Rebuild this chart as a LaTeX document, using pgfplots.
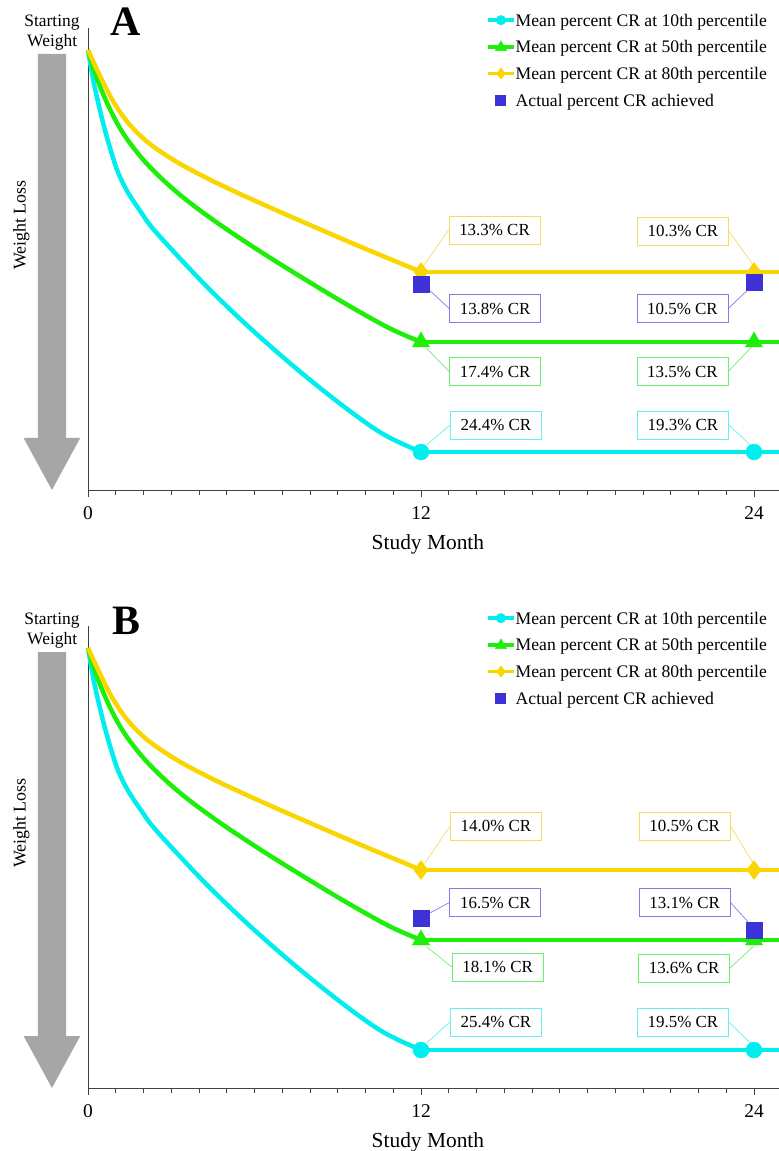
\documentclass[border=0pt]{standalone}
\usepackage{pgfplots}
\pgfplotsset{compat=1.18}
\usepackage{pgfplotstable}
\usepackage{fontspec}
\setmainfont{Liberation Serif}

\definecolor{cyanC}{RGB}{0,238,238}
\definecolor{greenC}{RGB}{30,238,10}
\definecolor{yellowC}{RGB}{250,214,0}
\definecolor{blueC}{RGB}{60,50,215}
\definecolor{cyanB}{RGB}{100,240,240}
\definecolor{greenB}{RGB}{110,238,110}
\definecolor{yellowB}{RGB}{242,220,100}
\definecolor{blueB}{RGB}{130,124,230}
\definecolor{arrowgray}{RGB}{166,166,166}

\pgfplotstableread{
m y
0 440
0.19 410
0.37 387
0.61 360
0.85 337
1.09 317
1.45 297
1.93 277
2.29 263
3.02 240.4
4.10 208.5
4.94 185.4
5.90 160.4
7.10 131
8.30 103.4
9.50 77.6
10.46 58.9
11.18 48.1
12 38
}\cyancurve
\pgfplotstableread{
m y
0 440
0.25 417
0.61 391.8
0.97 370.9
1.33 354
1.81 336.2
2.29 321.3
2.90 305.1
3.50 291
4.22 275.9
5.06 259.5
6.14 239.7
7.10 222.9
8.30 202.5
9.50 182.7
10.70 164.1
11.42 154.7
12 148
}\greencurve
\pgfplotstableread{
m y
0 440
0.37 417.8
0.85 391.4
1.33 371.2
1.81 356.3
2.29 344.8
2.90 333.2
3.50 323.3
4.40 310.3
5.30 298.3
6.20 287
7.10 275.9
8.00 265
8.90 254.2
10.10 240
11.30 226.2
12 218
}\yellowcurve

\newcommand{\annfont}{\fontsize{17}{18}\selectfont}
\tikzset{annbox/.style={draw=#1, line width=0.8bp, fill=white, minimum width=91bp, minimum height=28bp, inner sep=0pt, font=\annfont}}

\pgfplotsset{
  panel/.style={
    anchor=origin, x=27.75bp, y=1bp,
    xmin=0, xmax=24.9, ymin=0, ymax=462,
    axis x line=bottom, axis y line=left,
    axis line style={-, black!75, line width=0.9bp},
    ytick=\empty, xtick={0,12,24}, xticklabels={0,12,24},
    minor xtick={1,2,...,23},
    tick align=outside, major tick length=7bp, minor tick length=4.5bp,
    tick style={black!75, line width=0.8bp},
    xticklabel style={font=\fontsize{19.5}{20}\selectfont, anchor=base, yshift=-22bp},
    clip=false,
    legend style={draw=none, fill=none, at={(0.576,1.0325)}, anchor=north west,
      inner sep=0pt, row sep=12.7bp, font=\fontsize{17.7}{18}\selectfont,
      nodes={inner sep=0pt, text height=13bp, text depth=1bp}},
    legend cell align=left,
  },
}

\newcommand{\legendstuff}{%
  \addlegendimage{legend image code/.code={\draw[cyanC, line width=3.5bp] (0bp,0bp) -- (26bp,0bp); \fill[cyanC] (13bp,0bp) circle (4.8bp);}}
  \addlegendentry{Mean percent CR at 10th percentile}
  \addlegendimage{legend image code/.code={\draw[greenC, line width=3.5bp] (0bp,0bp) -- (26bp,0bp); \fill[greenC] (13bp,6bp) -- (7.3bp,-3.8bp) -- (18.7bp,-3.8bp) -- cycle;}}
  \addlegendentry{Mean percent CR at 50th percentile}
  \addlegendimage{legend image code/.code={\draw[yellowC, line width=3.5bp] (0bp,0bp) -- (26bp,0bp); \fill[yellowC] (13bp,5.5bp) -- (17.5bp,0bp) -- (13bp,-5.5bp) -- (8.5bp,0bp) -- cycle;}}
  \addlegendentry{Mean percent CR at 80th percentile}
  \addlegendimage{legend image code/.code={\path[draw=none, fill=none] (0bp,-1bp) rectangle (26bp,1bp); \fill[blueC] (7bp,-5.3bp) rectangle (17.6bp,5.3bp);}}
  \addlegendentry{Actual percent CR achieved}
}

\newcommand{\curves}{%
  \addplot[cyanC, line width=4.5bp, smooth, tension=0.6, line join=round, forget plot] table[x=m,y=y] {\cyancurve};
  \addplot[cyanC, line width=4.5bp, forget plot] coordinates {(12,38) (24.9,38)};
  \addplot[greenC, line width=4.5bp, smooth, tension=0.6, line join=round, forget plot] table[x=m,y=y] {\greencurve};
  \addplot[greenC, line width=4.5bp, forget plot] coordinates {(12,148) (24.9,148)};
  \addplot[yellowC, line width=4.5bp, smooth, tension=0.6, line join=round, forget plot] table[x=m,y=y] {\yellowcurve};
  \addplot[yellowC, line width=4.5bp, forget plot] coordinates {(12,218) (24.9,218)};
  \addplot[only marks, mark=*, mark size=8bp, cyanC, forget plot] coordinates {(12,38) (24,38)};
  \addplot[only marks, mark=triangle*, mark size=10bp, greenC, forget plot] coordinates {(12,148) (24,148)};
  \addplot[only marks, mark=diamond*, mark size=9.5bp, yellowC, forget plot] coordinates {(12,218) (24,218)};
}

\newcommand{\decor}[1]{%
  \fill[arrowgray] (axis cs:-1.81,436) -- (axis cs:-0.79,436) -- (axis cs:-0.79,52) -- (axis cs:-0.28,52) -- (axis cs:-1.30,0) -- (axis cs:-2.32,52) -- (axis cs:-1.81,52) -- cycle;
  \node[font=\fontsize{17.5}{18}\selectfont, anchor=base] at (axis cs:-1.30,463.3) {Starting};
  \node[font=\fontsize{17.5}{18}\selectfont, anchor=base] at (axis cs:-1.29,443.3) {Weight};
  \node[font=\fontsize{18}{20}\selectfont, rotate=90] at (axis cs:-2.40,265) {Weight Loss};
  \node[font=\fontsize{42}{42}\selectfont\bfseries, anchor=base] at (axis cs:1.37,454) {#1};
  \node[font=\fontsize{21.5}{22}\selectfont, anchor=base] at (axis cs:12.25,-59) {Study Month};
}

\begin{document}
\begin{tikzpicture}
\path[use as bounding box] (-88bp,-661bp) rectangle (691bp,490bp);

% Panel A
\begin{axis}[panel, at={(0bp,0bp)}]
  \legendstuff
  \curves
  \addplot[only marks, mark=square*, mark size=8bp, blueC, forget plot] coordinates {(12,205.7) (24,208.3)};
  \decor{A}
  \node[annbox=yellowB] (ya) at (axis cs:14.65,260) {13.3\% CR};
  \draw[yellowB, line width=0.7bp] (ya.west) -- (axis cs:12.11,225);
  \node[annbox=yellowB] (yb) at (axis cs:21.44,259) {10.3\% CR};
  \draw[yellowB, line width=0.7bp] (yb.east) -- (axis cs:23.97,225);
  \node[annbox=blueB] (ba) at (axis cs:14.67,181.5) {13.8\% CR};
  \draw[blueB, line width=0.7bp] (ba.west) -- (axis cs:12.30,200);
  \node[annbox=blueB] (bb) at (axis cs:21.42,181.5) {10.5\% CR};
  \draw[blueB, line width=0.7bp] (bb.east) -- (axis cs:23.77,200);
  \node[annbox=greenB] (ga) at (axis cs:14.67,118.5) {17.4\% CR};
  \draw[greenB, line width=0.7bp] (ga.west) -- (axis cs:12.2,141.7);
  \node[annbox=greenB] (gb) at (axis cs:21.42,118.5) {13.5\% CR};
  \draw[greenB, line width=0.7bp] (gb.east) -- (axis cs:23.92,143.3);
  \node[annbox=cyanB] (ca) at (axis cs:14.70,65) {24.4\% CR};
  \draw[cyanB, line width=0.7bp] (ca.west) -- (axis cs:12.2,45);
  \node[annbox=cyanB] (cb) at (axis cs:21.44,65) {19.3\% CR};
  \draw[cyanB, line width=0.7bp] (cb.east) -- (axis cs:23.86,45);
\end{axis}

% Panel B
\begin{axis}[panel, at={(0bp,-598bp)}]
  \legendstuff
  \curves
  \addplot[only marks, mark=square*, mark size=8bp, blueC, forget plot] coordinates {(12,170.2) (24,157.7)};
  \decor{B}
  \node[annbox=yellowB] (ya) at (axis cs:14.70,262) {14.0\% CR};
  \draw[yellowB, line width=0.7bp] (ya.west) -- (axis cs:12.14,224.7);
  \node[annbox=yellowB] (yb) at (axis cs:21.5,262) {10.5\% CR};
  \draw[yellowB, line width=0.7bp] (yb.east) -- (axis cs:23.97,224.7);
  \node[annbox=blueB] (ba) at (axis cs:14.68,185.5) {16.5\% CR};
  \draw[blueB, line width=0.7bp] (ba.west) -- (axis cs:12.30,174.7);
  \node[annbox=blueB] (bb) at (axis cs:21.5,185.5) {13.1\% CR};
  \draw[blueB, line width=0.7bp] (bb.east) -- (axis cs:23.83,164.7);
  \node[annbox=greenB] (ga) at (axis cs:14.76,121) {18.1\% CR};
  \draw[greenB, line width=0.7bp] (ga.west) -- (axis cs:12.2,141.3);
  \node[annbox=greenB] (gb) at (axis cs:21.48,120) {13.6\% CR};
  \draw[greenB, line width=0.7bp] (gb.east) -- (axis cs:23.97,141.3);
  \node[annbox=cyanB] (ca) at (axis cs:14.70,66) {25.4\% CR};
  \draw[cyanB, line width=0.7bp] (ca.west) -- (axis cs:12.2,45);
  \node[annbox=cyanB] (cb) at (axis cs:21.44,66) {19.5\% CR};
  \draw[cyanB, line width=0.7bp] (cb.east) -- (axis cs:23.86,45);
\end{axis}
\end{tikzpicture}
\end{document}
